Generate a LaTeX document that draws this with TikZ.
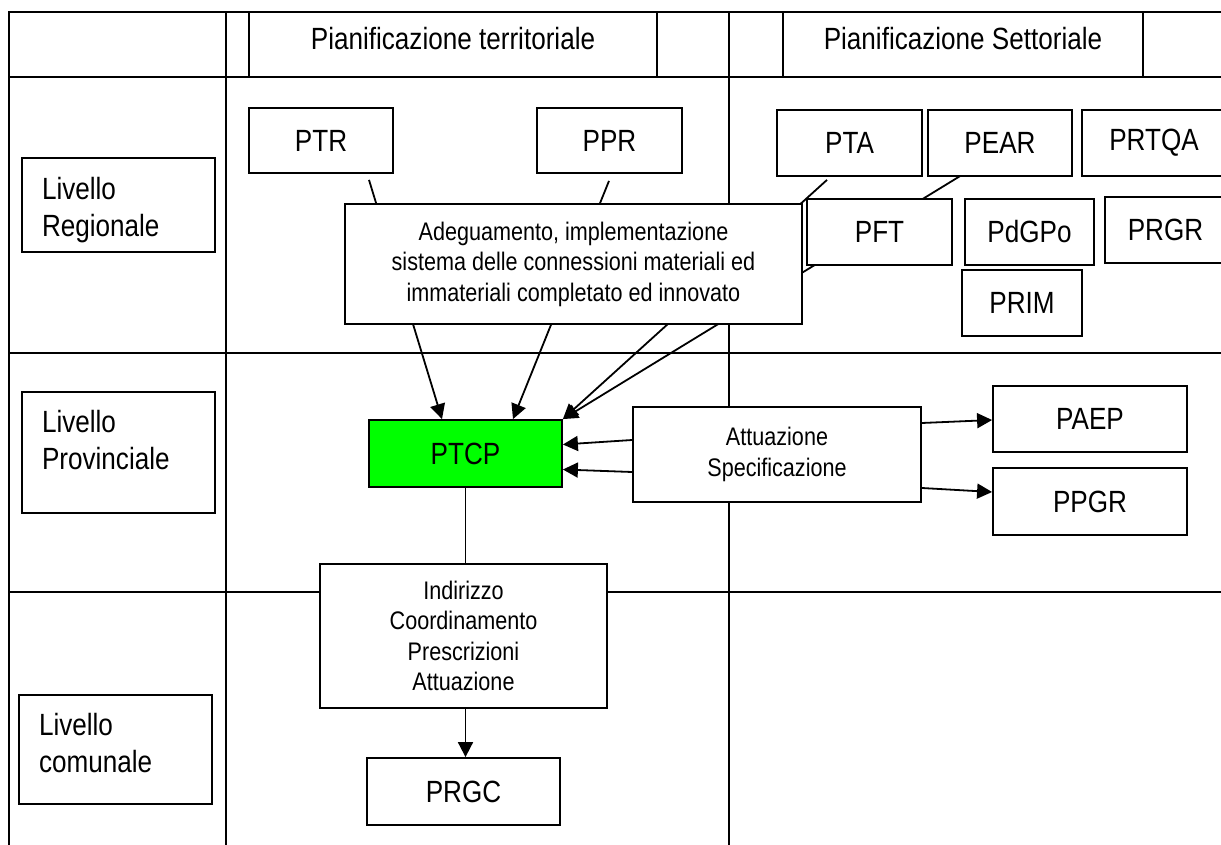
\documentclass[tikz,border=0pt]{standalone}
\usepackage{fontspec}
\setmainfont{Liberation Sans}[FakeStretch=0.85]
\usetikzlibrary{arrows.meta}
\definecolor{ptcpgreen}{RGB}{0,255,0}
\pgfdeclarelayer{bg}
\pgfsetlayers{bg,main}
\tikzset{
  big/.style={font=\fontsize{30.7}{37}\selectfont},
  small/.style={font=\fontsize{25.4}{30.5}\selectfont},
  bx/.style={draw, fill=white, line width=1.8pt, inner sep=0pt, align=center},
  lvl/.style={draw, fill=white, line width=1.8pt, big, align=left, text width=153pt, inner xsep=20pt, inner ysep=0pt, minimum width=193pt},
  gridline/.style={line width=1.8pt},
  conn/.style={line width=1.8pt},
  arr/.style={conn, -{Triangle[length=15pt,width=15pt]}},
}
\begin{document}
\begin{tikzpicture}[x=1pt, y=-1pt]
\useasboundingbox (0,0) rectangle (1221,845);

% headers
\node[big, anchor=base] (hterr) at (453,50) {Pianificazione territoriale};
\node[big, anchor=base] (hsett) at (963,50) {Pianificazione Settoriale};

% level boxes
\node[lvl, minimum height=94pt] (lr) at (118.5,205) {\rule{0pt}{33pt}Livello\\Regionale};
\node[lvl, minimum height=121pt] (lp) at (118.5,452.5) {Livello\\Provinciale\rule[-24.4pt]{0pt}{24.4pt}};
\node[lvl, minimum height=109pt] (lc) at (115.5,749.5) {Livello\\comunale\rule[-12.4pt]{0pt}{12.4pt}};

% regional plans
\node[bx, big, minimum width=144pt, minimum height=65pt] (ptr) at (321,140.5) {PTR};
\node[bx, big, minimum width=145pt, minimum height=65pt] (ppr) at (609.5,140.5) {PPR};
\node[bx, big, minimum width=145pt, minimum height=66pt] (pta) at (849.5,143) {PTA};
\node[bx, big, minimum width=144pt, minimum height=66pt] (pear) at (1000,143) {PEAR};
\node[bx, big, minimum width=144pt, minimum height=66pt] (prtqa) at (1154,143) {PRTQA};
\node[bx, big, minimum width=129pt, minimum height=66pt] (pdgpo) at (1029.5,232) {PdGPo};
\node[bx, big, minimum width=121pt, minimum height=66pt] (prgr) at (1165.5,230) {PRGR};
\node[bx, big, minimum width=120pt, minimum height=66pt] (prim) at (1022,303) {PRIM};

% provincial
\node[bx, big, fill=ptcpgreen, minimum width=193pt, minimum height=67pt] (ptcp) at (465.5,453.5) {PTCP};
\node[bx, big, minimum width=194pt, minimum height=66pt] (paep) at (1090,419) {PAEP};
\node[bx, big, minimum width=194pt, minimum height=67pt] (ppgr) at (1090,501.5) {PPGR};
\node[bx, small, minimum width=288pt, minimum height=95pt] (att) at (777,454.5) {Attuazione\\Specificazione};

% communal
\node[bx, big, minimum width=193pt, minimum height=67pt] (prgc) at (463.5,791.5) {PRGC};

% boxes that lie over connectors
\node[bx, small, minimum width=457pt, minimum height=120pt] (adeg) at (573.5,264) {Adeguamento, implementazione\\sistema delle connessioni materiali ed\\immateriali completato ed innovato};
\node[bx, big, minimum width=145pt, minimum height=66pt] (pft) at (879.5,232) {PFT};
\node[bx, small, minimum width=287pt, minimum height=144pt] (ind) at (463.5,636) {Indirizzo\\Coordinamento\\Prescrizioni\\Attuazione};

\begin{pgfonlayer}{bg}
  % table grid
  \draw[gridline] (9,845) |- (1221,12);
  \draw[gridline] (9,77) -- (1221,77);
  \draw[gridline] (9,353) -- (1221,353);
  \draw[gridline] (9,592) -- (1221,592);
  \draw[gridline] (226,12) -- (226,845);
  \draw[gridline] (249,12) -- (249,77);
  \draw[gridline] (657,12) -- (657,77);
  \draw[gridline] (729,12) -- (729,845);
  \draw[gridline] (783,12) -- (783,77);
  \draw[gridline] (1143,12) -- (1143,77);
  % connectors to PTCP (pass behind boxes)
  \draw[arr] ([xshift=48pt,yshift=-6pt]ptr.south) -- ([xshift=-23.5pt]ptcp.north);
  \draw[arr] ([xshift=-0.5pt,yshift=-7pt]ppr.south) -- ([xshift=47.5pt]ptcp.north);
  \draw[arr] ([xshift=-22.5pt,yshift=-3pt]pta.south) -- (ptcp.north east);
  \draw[arr] ([xshift=-38pt,yshift=2pt]pear.south) -- (ptcp.north east);
  \draw[arr] (ptcp.south) -- (ptcp.south |- prgc.north);
\end{pgfonlayer}

\draw[arr] ([yshift=14.5pt]att.west) -- ([yshift=9pt]ptcp.east);
\draw[arr] ([yshift=-17.5pt]att.west) -- ([yshift=-16pt]ptcp.east);
\draw[arr] ([yshift=31.5pt]att.east) -- ([yshift=-1pt]paep.west);
\draw[arr] ([yshift=-33.5pt]att.east) -- ([yshift=9.5pt]ppgr.west);
\end{tikzpicture}
\end{document}
